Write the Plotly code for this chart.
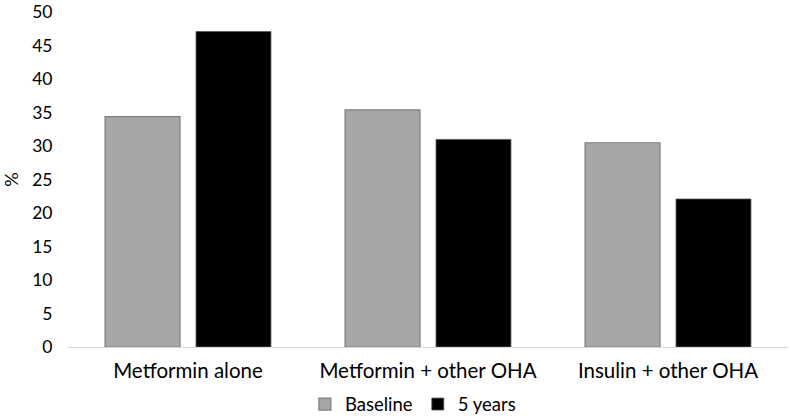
import plotly.graph_objects as go

categories = ["Metformin alone", "Metformin + other OHA", "Insulin + other OHA"]
baseline = [34.4, 35.4, 30.5]
five_years = [47.1, 31.0, 22.1]
y_ticks = [0, 5, 10, 15, 20, 25, 30, 35, 40, 45, 50]

fig = go.Figure()
fig.add_trace(go.Bar(name="Baseline", x=categories, y=baseline,
                     marker=dict(color="#a6a6a6", line=dict(color="#7f7f7f", width=1.2))))
fig.add_trace(go.Bar(name="5 years", x=categories, y=five_years,
                     marker=dict(color="#000000", line=dict(color="#595959", width=0.8))))

fig.update_layout(
    width=789, height=418,
    margin=dict(l=68, r=1, t=12, b=71, autoexpand=False),
    paper_bgcolor="white", plot_bgcolor="white",
    barmode="group", bargap=0.242, bargroupgap=0.176,
    font=dict(family="Lato, Open Sans, sans-serif", size=20, color="#000000"),
    showlegend=True,
    legend=dict(orientation="h", x=0.479, xanchor="center", y=-0.115, yanchor="top",
                font=dict(size=18.5), traceorder="normal", itemwidth=30),
)
fig.update_xaxes(showline=True, linecolor="#d9d9d9", linewidth=1, ticks="outside",
                 ticklen=5, tickcolor="rgba(0,0,0,0)", showgrid=False, automargin=False,
                 tickfont=dict(size=20.5))
fig.update_yaxes(range=[0, 50.02], tickvals=y_ticks, showgrid=False, zeroline=False,
                 showline=False, ticks="outside", ticklen=11, tickcolor="rgba(0,0,0,0)",
                 automargin=False, tickfont=dict(size=17.5), ticklabeloverflow="allow",
                 title=dict(text="%", standoff=14, font=dict(size=18)))

fig.write_html("out.html", config={"displayModeBar": False},
               post_script="document.body.style.margin='0';")
